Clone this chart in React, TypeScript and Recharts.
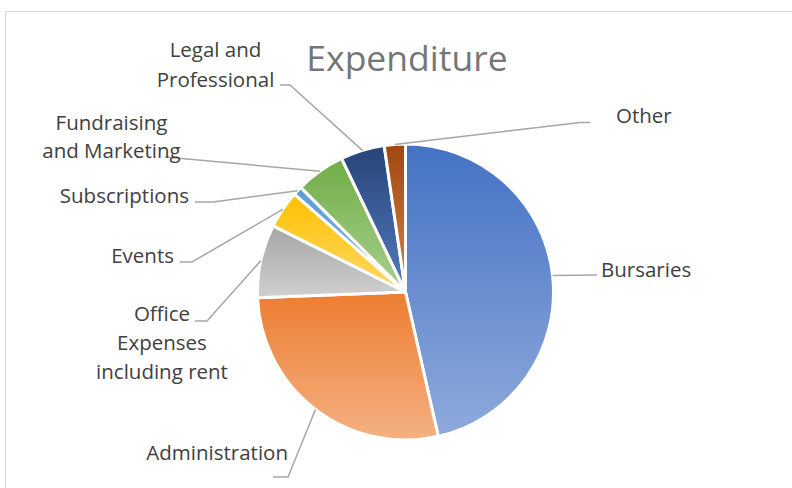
import React from 'react';
import { PieChart, Pie, Cell } from 'recharts';

const categories = [
  'Bursaries',
  'Administration',
  'Office Expenses including rent',
  'Events',
  'Subscriptions',
  'Fundraising and Marketing',
  'Legal and Professional',
  'Other',
];
const values = [46.4, 27.9, 8.0, 4.1, 1.0, 5.4, 4.8, 2.3];
const labelTexts = [
  ['Bursaries'],
  ['Administration'],
  ['Office', 'Expenses', 'including rent'],
  ['Events'],
  ['Subscriptions'],
  ['Fundraising', 'and Marketing'],
  ['Legal and', 'Professional'],
  ['Other'],
];
const colorsTop = ['#4472C4', '#ED7D31', '#A5A5A5', '#FFC000', '#5B9BD5', '#70AD47', '#264478', '#9E480E'];
const colorsBottom = ['#8FAADC', '#F4B183', '#D0D0D0', '#FFD966', '#8DB9E5', '#A9D18E', '#5479BE', '#D98345'];

const data = categories.map((name, i) => ({ name, value: values[i] }));

// label layout relative to pie centre: text position, anchor, line height, leader elbow points
const labelLayout = [
  { dx: 195.5, dy: -15, anchor: 'start', lh: 30, pts: [[191.5, -17]] },
  { dx: -117.5, dy: 168, anchor: 'end', lh: 30, pts: [[-117.5, 185], [-132.5, 185]] },
  { dx: -243.5, dy: 29, anchor: 'middle', lh: 29, pts: [[-198.5, 29], [-210.5, 29]] },
  { dx: -231.5, dy: -29, anchor: 'end', lh: 30, pts: [[-213.5, -30], [-225.5, -30]] },
  { dx: -216.5, dy: -89, anchor: 'end', lh: 30, pts: [[-192.5, -90], [-210.5, -90]] },
  { dx: -294, dy: -162, anchor: 'middle', lh: 28, pts: [[-240.5, -135]] },
  { dx: -190, dy: -235, anchor: 'middle', lh: 30, pts: [[-115.5, -207], [-125.5, -207]] },
  { dx: 210.5, dy: -169, anchor: 'start', lh: 30, pts: [[174.5, -169.5], [184.5, -169.5]] },
];

const FONT = '"Open Sans", sans-serif';

const renderLabel = (props: any) => {
  const { cx, cy, midAngle, outerRadius, index } = props;
  const rad = (-midAngle * Math.PI) / 180;
  const ex = cx + outerRadius * Math.cos(rad);
  const ey = cy + outerRadius * Math.sin(rad);
  const lay = labelLayout[index];
  const points = [[ex, ey], ...lay.pts.map(([x, y]) => [cx + x, cy + y])]
    .map(([x, y]) => `${x},${y}`)
    .join(' ');
  const lines = labelTexts[index];
  return (
    <g key={`lbl-${index}`}>
      <polyline points={points} fill="none" stroke="#A6A6A6" strokeWidth={1.5} />
      <text
        x={cx + lay.dx}
        y={cy + lay.dy}
        textAnchor={lay.anchor}
        fill="#404040"
        fontSize={20.5}
        fontFamily={FONT}
      >
        {lines.map((t, i) => (
          <tspan key={i} x={cx + lay.dx} dy={i === 0 ? 0 : lay.lh}>
            {t}
          </tspan>
        ))}
      </text>
    </g>
  );
};

export default function App() {
  return (
    <div
      style={{
        position: 'absolute',
        left: 0,
        top: 0,
        width: 792,
        height: 488,
        overflow: 'hidden',
        background: '#ffffff',
      }}
    >
      <div
        style={{
          position: 'absolute',
          left: 5,
          top: 11,
          width: 820,
          height: 520,
          border: '1.5px solid #D9D9D9',
        }}
      />
      <svg width={792} height={488} style={{ position: 'absolute', left: 0, top: 0 }}>
        <text x={407} y={71} textAnchor="middle" fill="#767676" fontSize={35.5} fontFamily={FONT}>
          Expenditure
        </text>
      </svg>
      <div style={{ position: 'absolute', left: 0, top: 0 }}>
        <PieChart width={792} height={488} margin={{ top: 0, right: 0, bottom: 0, left: 0 }}>
          <defs>
            {colorsTop.map((c, i) => (
              <linearGradient key={i} id={`grad${i}`} x1="0" y1="0" x2="0" y2="1">
                <stop offset="0%" stopColor={c} />
                <stop offset="100%" stopColor={colorsBottom[i]} />
              </linearGradient>
            ))}
          </defs>
          <Pie
            data={data}
            dataKey="value"
            nameKey="name"
            cx={405.5}
            cy={292}
            outerRadius={148}
            startAngle={90}
            endAngle={-270}
            stroke="#ffffff"
            strokeWidth={3}
            label={renderLabel}
            labelLine={false}
            isAnimationActive={false}
          >
            {data.map((d, i) => (
              <Cell key={d.name} fill={`url(#grad${i})`} />
            ))}
          </Pie>
        </PieChart>
      </div>
    </div>
  );
}
